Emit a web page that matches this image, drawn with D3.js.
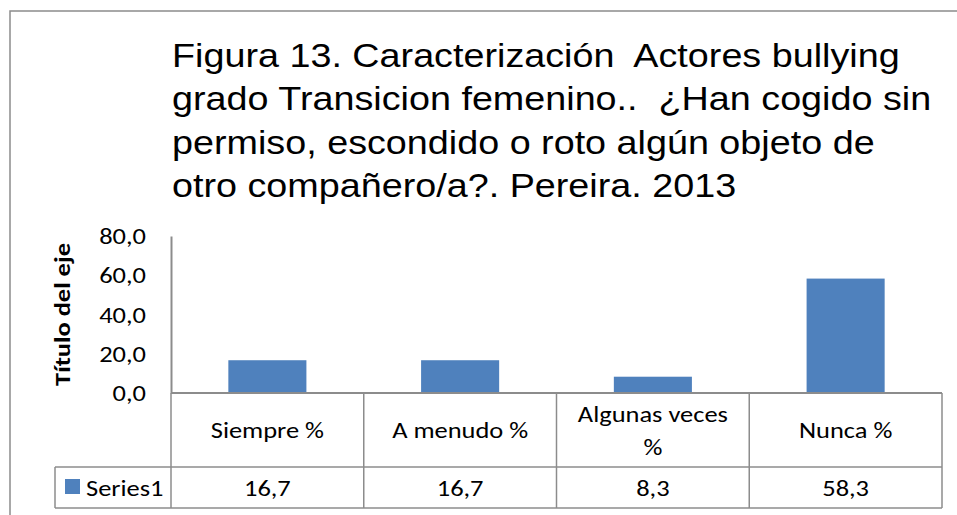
<!DOCTYPE html>
<html>
<head>
<meta charset="utf-8">
<script src="https://cdn.jsdelivr.net/npm/d3@7"></script>
<style>
  body { margin: 0; background: #fff; }
  svg { display: block; }
  text { white-space: pre; }
</style>
</head>
<body>
<div id="chart"></div>
<script>
// chart data
const titleLines = [
  "Figura 13. Caracterización  Actores bullying",
  "grado Transicion femenino..  ¿Han cogido sin",
  "permiso, escondido o roto algún objeto de",
  "otro compañero/a?. Pereira. 2013"
];
const categories = ["Siempre %", "A menudo %", "Algunas veces %", "Nunca %"];
const categoryLines = [["Siempre %"], ["A menudo %"], ["Algunas veces", "%"], ["Nunca %"]];
const seriesName = "Series1";
const values = [16.7, 16.7, 8.3, 58.3];
const valueLabels = ["16,7", "16,7", "8,3", "58,3"];
const yTicks = [0, 20, 40, 60, 80];
const yTitle = "Título del eje";

const W = 957, H = 515;
const calibri = "Carlito, Calibri, Lato, 'Open Sans', sans-serif";
const arial = "'Liberation Sans', Arial, sans-serif";
const gridColor = "#8c8c8c";
const barColor = "#4f81bd";
const fs = 23, sx = 1.15; // calibri stand-in is a bit narrow, stretch it

const plotLeft = 171, plotRight = 942, plotTop = 236, plotBottom = 393;
const rowMid = 467, rowBottom = 508, legendLeft = 55;

const svg = d3.select("#chart").append("svg")
  .attr("width", W)
  .attr("height", H);

// helper for stretched labels
function label(g, x, y, txt, anchor) {
  return g.append("text")
    .attr("transform", "translate(" + x + "," + y + ") scale(" + sx + ",1)")
    .attr("text-anchor", anchor || "middle")
    .attr("font-family", calibri)
    .attr("font-size", fs)
    .attr("fill", "#000")
    .text(txt);
}

// outer chart border
svg.append("rect")
  .attr("x", 10).attr("y", 11)
  .attr("width", W + 20).attr("height", H + 20)
  .attr("fill", "#fff")
  .attr("stroke", gridColor)
  .attr("stroke-width", 1.5);

// title
svg.append("text")
  .attr("transform", "translate(172,0) scale(1.11,1)")
  .attr("font-family", arial)
  .attr("font-size", 34)
  .attr("fill", "#000")
  .selectAll("tspan")
  .data(titleLines)
  .enter()
  .append("tspan")
  .attr("x", 0)
  .attr("y", (d, i) => 67 + i * 43.5)
  .text(d => d);

// scales
const x = d3.scaleBand()
  .domain(categories)
  .range([plotLeft, plotRight])
  .paddingInner(0.595)
  .paddingOuter(0.2975);

const band = d3.scaleBand().domain(categories).range([plotLeft, plotRight]);

const y = d3.scaleLinear()
  .domain([0, 80])
  .range([plotBottom, plotTop]);

// y axis
const yAxis = svg.append("g")
  .attr("transform", "translate(" + plotLeft + ",0)")
  .call(d3.axisLeft(y).tickValues(yTicks).tickSize(0).tickFormat(""));
yAxis.select(".domain").attr("stroke", gridColor).attr("stroke-width", 2);

const tickG = svg.append("g");
yTicks.forEach(t => {
  label(tickG, 146, y(t) + 8, d3.format(".1f")(t).replace(".", ","), "end");
});

// y title
svg.append("text")
  .attr("transform", "translate(70," + ((plotTop + plotBottom) / 2) + ") rotate(-90) scale(" + sx + ",1)")
  .attr("text-anchor", "middle")
  .attr("font-family", calibri)
  .attr("font-size", 23)
  .attr("font-weight", "bold")
  .text(yTitle);

// bars
svg.append("g").selectAll("rect")
  .data(values)
  .enter()
  .append("rect")
  .attr("x", (d, i) => x(categories[i]))
  .attr("y", d => y(d))
  .attr("width", x.bandwidth())
  .attr("height", d => y(0) - y(d))
  .attr("fill", barColor);

// data table
const table = svg.append("g")
  .attr("stroke", gridColor)
  .attr("stroke-width", 1.5)
  .attr("fill", "none");

table.append("line")
  .attr("x1", plotLeft).attr("x2", plotRight)
  .attr("y1", plotBottom).attr("y2", plotBottom)
  .attr("stroke-width", 2);
table.append("line")
  .attr("x1", legendLeft).attr("x2", plotRight)
  .attr("y1", rowMid).attr("y2", rowMid);
table.append("line")
  .attr("x1", legendLeft).attr("x2", plotRight)
  .attr("y1", rowBottom).attr("y2", rowBottom);
table.append("line")
  .attr("x1", legendLeft).attr("x2", legendLeft)
  .attr("y1", rowMid).attr("y2", rowBottom);
table.selectAll(".vline")
  .data(categories)
  .enter()
  .append("line")
  .attr("x1", d => band(d) + band.bandwidth())
  .attr("x2", d => band(d) + band.bandwidth())
  .attr("y1", plotBottom).attr("y2", rowBottom);
table.append("line")
  .attr("x1", plotLeft).attr("x2", plotLeft)
  .attr("y1", plotBottom).attr("y2", rowBottom);

// category labels
const catG = svg.append("g");
categories.forEach((c, i) => {
  const lines = categoryLines[i];
  const cx = band(c) + band.bandwidth() / 2;
  lines.forEach((l, j) => {
    label(catG, cx, (plotBottom + rowMid) / 2 + 8 + (j - (lines.length - 1) / 2) * 33, l);
  });
});

// value labels
const valG = svg.append("g");
valueLabels.forEach((v, i) => {
  label(valG, band(categories[i]) + band.bandwidth() / 2, (rowMid + rowBottom) / 2 + 8, v);
});

// legend key
svg.append("rect")
  .attr("x", 65).attr("y", 479)
  .attr("width", 15).attr("height", 15)
  .attr("fill", barColor);
label(svg, 86, (rowMid + rowBottom) / 2 + 8, seriesName, "start");
</script>
</body>
</html>
